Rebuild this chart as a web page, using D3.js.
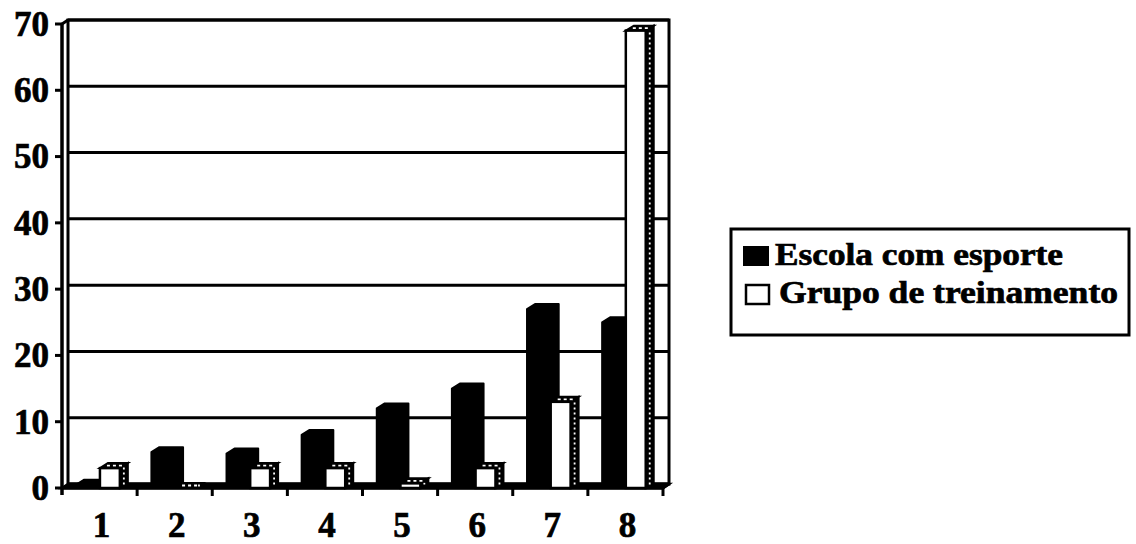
<!DOCTYPE html>
<html>
<head>
<meta charset="utf-8">
<script src="https://cdn.jsdelivr.net/npm/d3@7"></script>
<style>
  html, body { margin: 0; padding: 0; background: #fff; }
  svg { display: block; }
  text { font-family: "Times New Roman", "Liberation Serif", serif; font-weight: bold; fill: #000; stroke: #000; stroke-width: 0.7px; }
</style>
</head>
<body>
<svg id="chart" width="1136" height="544"></svg>
<script>
// ---- data ----
const categories = ["1", "2", "3", "4", "5", "6", "7", "8"];
const escolaComEsporte = [0.5, 5.4, 5.2, 8, 12, 15, 27, 25];
const grupoDeTreinamento = [3, 0, 3, 3, 0.7, 3, 13, 69];
const yTicks = [0, 10, 20, 30, 40, 50, 60, 70];
const seriesNames = ["Escola com esporte", "Grupo de treinamento"];

// ---- layout ----
const svg = d3.select("#chart");
const x = d3.scaleBand().domain(categories).range([62, 663]).padding(0);
const y = d3.scaleLinear().domain([0, 70]).range([488, 24]);
const wallDx = 6, wallDy = 4;     // back wall offset
const barDx = 8, barDy = 5;       // bar depth offset
const bw = x.bandwidth();
const x0 = x.range()[0], x1 = x.range()[1];

// back wall
svg.append("rect")
  .attr("x", x0 + wallDx).attr("y", y(70) - wallDy)
  .attr("width", x1 - x0).attr("height", y(0) - y(70))
  .attr("fill", "#fff").attr("stroke", "#000").attr("stroke-width", 3);

// gridlines on back wall
svg.append("g").selectAll("line").data(yTicks).join("line")
  .attr("x1", x0 + wallDx).attr("x2", x1 + wallDx)
  .attr("y1", d => y(d) - wallDy).attr("y2", d => y(d) - wallDy)
  .attr("stroke", "#000").attr("stroke-width", 3);

// floor
svg.append("path")
  .attr("d", `M${x0},${y(0)} L${x0 + wallDx},${y(0) - wallDy} L${x1 + wallDx},${y(0) - wallDy} L${x1},${y(0)} Z`)
  .attr("fill", "#000").attr("stroke", "#000").attr("stroke-width", 2.5);

// left wall edge and front axis
svg.append("line").attr("x1", x0).attr("x2", x0).attr("y1", y(70)).attr("y2", y(0) + 7)
  .attr("stroke", "#000").attr("stroke-width", 3.5);
svg.append("line").attr("x1", x0).attr("x2", x0 + wallDx).attr("y1", y(70)).attr("y2", y(70) - wallDy)
  .attr("stroke", "#000").attr("stroke-width", 3);
svg.append("line").attr("x1", x0).attr("x2", x1).attr("y1", y(0)).attr("y2", y(0))
  .attr("stroke", "#000").attr("stroke-width", 3.5);
svg.append("line").attr("x1", x1).attr("x2", x1 + wallDx).attr("y1", y(0)).attr("y2", y(0) - wallDy)
  .attr("stroke", "#000").attr("stroke-width", 3);

// bars
const data = categories.map((c, i) => ({ c, a: escolaComEsporte[i], b: grupoDeTreinamento[i] }));
const gBars = svg.append("g");
data.forEach(d => {
  const bx = x(d.c);
  // black bar: front + top + side as one polygon
  const ax0 = bx + bw * 0.19, ax1 = bx + bw * 0.505;
  const ay = y(d.a), yb = y(0);
  gBars.append("path")
    .attr("d", `M${ax0},${yb} L${ax0},${ay} L${ax0 + barDx},${ay - barDy} L${ax1 + barDx},${ay - barDy} L${ax1 + barDx},${yb - barDy} L${ax1},${yb} Z`)
    .attr("fill", "#000").attr("stroke", "#000").attr("stroke-width", 2).attr("stroke-linejoin", "round");
  // white bar
  const wx0 = ax1, wx1 = bx + bw * 0.77;
  const wy = y(d.b);
  // side face
  gBars.append("path")
    .attr("d", `M${wx1},${yb} L${wx1},${wy} L${wx1 + barDx},${wy - barDy} L${wx1 + barDx},${yb - barDy} Z`)
    .attr("fill", "#000").attr("stroke", "#000").attr("stroke-width", 2);
  // top face
  gBars.append("path")
    .attr("d", `M${wx0},${wy} L${wx0 + barDx},${wy - barDy} L${wx1 + barDx},${wy - barDy} L${wx1},${wy} Z`)
    .attr("fill", "#000").attr("stroke", "#000").attr("stroke-width", 2);
  // dotted highlights
  gBars.append("line")
    .attr("x1", wx1 + barDx / 2).attr("x2", wx1 + barDx / 2)
    .attr("y1", yb - barDy / 2 - 1).attr("y2", wy - barDy / 2 + 2)
    .attr("stroke", "#fff").attr("stroke-width", 1.8).attr("stroke-dasharray", "2,3");
  gBars.append("line")
    .attr("x1", wx0 + barDx / 2 + 3).attr("x2", wx1 + barDx / 2 - 1)
    .attr("y1", wy - barDy / 2).attr("y2", wy - barDy / 2)
    .attr("stroke", "#fff").attr("stroke-width", 1.8).attr("stroke-dasharray", "3,3");
  // front face
  if (yb - wy > 0.5) {
    gBars.append("rect")
      .attr("x", wx0).attr("y", wy).attr("width", wx1 - wx0).attr("height", yb - wy)
      .attr("fill", "#fff").attr("stroke", "#000").attr("stroke-width", 2.5);
  }
});

// y ticks and labels
svg.append("g").selectAll("line").data(yTicks).join("line")
  .attr("x1", x0 - 7).attr("x2", x0).attr("y1", d => y(d)).attr("y2", d => y(d))
  .attr("stroke", "#000").attr("stroke-width", 3);
svg.append("g").selectAll("text").data(yTicks).join("text")
  .attr("x", 49).attr("y", d => y(d)).attr("dy", "0.34em")
  .attr("text-anchor", "end").attr("font-size", 35)
  .text(d => d);

// x ticks and labels
const bounds = categories.map(c => x(c) + bw);
svg.append("g").selectAll("line").data(bounds).join("line")
  .attr("x1", d => d).attr("x2", d => d).attr("y1", y(0)).attr("y2", y(0) + 8)
  .attr("stroke", "#000").attr("stroke-width", 3);
svg.append("g").selectAll("text").data(categories).join("text")
  .attr("x", d => x(d) + bw / 2 + 2).attr("y", 537)
  .attr("text-anchor", "middle").attr("font-size", 35)
  .text(d => d);

// legend
const lg = svg.append("g");
lg.append("rect").attr("x", 731).attr("y", 229).attr("width", 398).attr("height", 106)
  .attr("fill", "#fff").attr("stroke", "#000").attr("stroke-width", 3);
lg.append("rect").attr("x", 743).attr("y", 246).attr("width", 26).attr("height", 20).attr("fill", "#000");
lg.append("rect").attr("x", 746).attr("y", 285).attr("width", 23).attr("height", 19)
  .attr("fill", "#fff").attr("stroke", "#000").attr("stroke-width", 2.5);
lg.append("text").attr("x", 775).attr("y", 265).attr("font-size", 31)
  .attr("textLength", 288).attr("lengthAdjust", "spacingAndGlyphs").text(seriesNames[0]);
lg.append("text").attr("x", 779).attr("y", 303).attr("font-size", 31)
  .attr("textLength", 339).attr("lengthAdjust", "spacingAndGlyphs").text(seriesNames[1]);
</script>
</body>
</html>
